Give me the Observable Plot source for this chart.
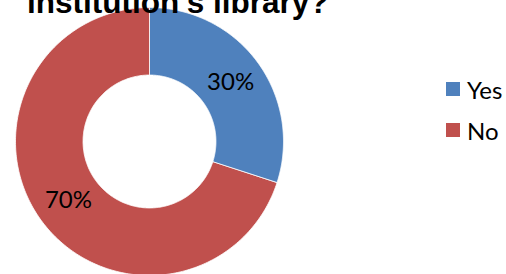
<!DOCTYPE html>
<html>
<head>
<meta charset="utf-8">
<script src="https://cdn.jsdelivr.net/npm/d3@7"></script>
<script src="https://cdn.jsdelivr.net/npm/@observablehq/plot@0.6"></script>
<style>
  html, body { margin: 0; padding: 0; background: #fff; }
  #wrap { position: relative; width: 506px; height: 274px; overflow: hidden; font-family: Lato, "Liberation Sans", sans-serif; }
  #title { position: absolute; left: 27px; top: -13px; font-family: "Liberation Sans", Arial, sans-serif; font-size: 31.5px; line-height: 1; font-weight: 700; color: #000; white-space: nowrap; }
  #chart { position: absolute; left: 0; top: 0; }
  #legend { position: absolute; left: 446px; top: 77px; font-size: 24px; color: #000; }
  .item { display: flex; align-items: center; height: 24px; margin-bottom: 17px; }
  .sw { width: 14px; height: 14px; margin-right: 7px; }
</style>
</head>
<body>
<div id="wrap">
  <div id="chart"></div>
  <div id="title">institution's library?</div>
  <div id="legend"></div>
</div>
<script>
const categories = ["Yes", "No"];
const values = [30, 70];
const labels = ["30%", "70%"];
const colors = ["#4F81BD", "#C0504D"];
const titleText = "institution's library?";

const innerR = 0.496, outerR = 1;
const rows = categories.map((c, i) => ({cat: c, value: values[i], label: labels[i]}));
const arcs = d3.pie().sort(null).value(d => d.value)(rows);

// polygon outline of each ring slice (geometry only)
const pts = [];
arcs.forEach(a => {
  const n = 240;
  for (let k = 0; k <= n; k++) {
    const t = a.startAngle + (a.endAngle - a.startAngle) * k / n;
    pts.push({cat: a.data.cat, x: outerR * Math.sin(t), y: outerR * Math.cos(t)});
  }
  for (let k = n; k >= 0; k--) {
    const t = a.startAngle + (a.endAngle - a.startAngle) * k / n;
    pts.push({cat: a.data.cat, x: innerR * Math.sin(t), y: innerR * Math.cos(t)});
  }
});
const labelPts = arcs.map(a => {
  const m = (a.startAngle + a.endAngle) / 2, r = (innerR + outerR) / 2;
  return {x: r * Math.sin(m), y: r * Math.cos(m), text: a.data.label};
});

const chart = Plot.plot({
  width: 506,
  height: 274,
  margin: 0,
  style: {background: "transparent", fontFamily: "Lato, 'Liberation Sans', sans-serif"},
  x: {domain: [-1, 1], range: [15, 283], axis: null},
  y: {domain: [-1, 1], range: [275, 7], axis: null},
  color: {domain: categories, range: colors},
  marks: [
    Plot.line(pts, {x: "x", y: "y", z: "cat", fill: "cat", stroke: "white", strokeWidth: 0.8, curve: "linear-closed"}),
    Plot.text(labelPts, {x: "x", y: "y", text: "text", fontSize: 24, fill: "black"})
  ]
});
document.getElementById("chart").appendChild(chart);
document.getElementById("title").textContent = titleText;

const legend = document.getElementById("legend");
categories.forEach((c, i) => {
  const it = document.createElement("div");
  it.className = "item";
  const sw = document.createElement("div");
  sw.className = "sw";
  sw.style.background = colors[i];
  const tx = document.createElement("span");
  tx.textContent = c;
  it.appendChild(sw); it.appendChild(tx);
  legend.appendChild(it);
});
</script>
</body>
</html>
